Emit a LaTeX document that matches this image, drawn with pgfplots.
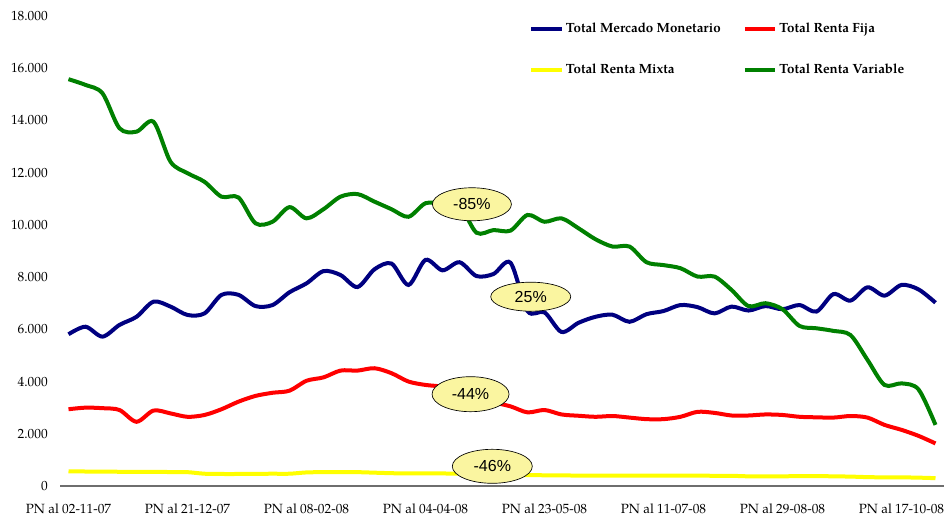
\documentclass[border=0pt]{standalone}
\usepackage{fontspec}
\setmainfont{TeX Gyre Pagella}
\newfontfamily\calloutfont{Liberation Sans}
\usepackage{pgfplots}
\usepackage{pgfplotstable}
\pgfplotsset{compat=1.18}
\usetikzlibrary{shapes.geometric}
\definecolor{mmcol}{RGB}{0,0,128}
\definecolor{rfcol}{RGB}{255,0,0}
\definecolor{rmxcol}{RGB}{255,255,0}
\definecolor{rvcol}{RGB}{0,128,0}
\definecolor{axisgray}{RGB}{110,110,110}
\definecolor{calloutfill}{RGB}{250,245,160}

\pgfplotstableread{
i  mm    rf    rmx  rv
0  5810  2940  560  15580
1  6100  3000  555  15360
2  5720  2980  550  15040
3  6170  2910  545  13700
4  6480  2460  540  13570
5  7060  2890  540  13950
6  6870  2780  535  12420
7  6550  2650  530  11980
8  6610  2720  470  11650
9  7320  2940  460  11080
10 7320  3230  460  11050
11 6890  3450  465  10060
12 6930  3570  470  10120
13 7420  3650  470  10680
14 7760  4030  520  10250
15 8230  4160  530  10600
16 8080  4420  530  11080
17 7620  4420  530  11180
18 8300  4510  510  10890
19 8520  4320  490  10600
20 7700  4000  480  10310
21 8660  3870  480  10830
22 8260  3800  480  10800
23 8570  3600  470  10750
24 8040  3350  450  9700
25 8120  3200  430  9800
26 8550  3050  420  9780
27 6700  2820  420  10380
28 6650  2910  410  10120
29 5900  2740  405  10250
30 6250  2690  400  9870
31 6480  2650  400  9450
32 6560  2680  400  9170
33 6290  2620  400  9170
34 6580  2560  400  8570
35 6700  2560  400  8460
36 6930  2650  400  8340
37 6850  2840  400  8020
38 6610  2800  390  8020
39 6870  2700  390  7510
40 6720  2700  370  6890
41 6890  2740  370  7000
42 6770  2720  370  6770
43 6930  2650  380  6130
44 6680  2630  380  6040
45 7350  2620  370  5940
46 7100  2680  360  5780
47 7610  2620  340  4830
48 7290  2340  330  3870
49 7700  2150  330  3930
50 7530  1920  320  3700
51 7020  1630  300  2340
}\datatable

\begin{document}
\begin{tikzpicture}[
  callout/.style={ellipse, draw=black, line width=0.5pt, fill=calloutfill,
    inner sep=0pt, font=\calloutfont\fontsize{12}{14}\selectfont}]
\useasboundingbox (-45pt,-26.25pt) rectangle (667.5pt,364.5pt);
\begin{axis}[
  at={(0pt,0pt)}, anchor=south west,
  scale only axis, width=663pt, height=352.5pt,
  xmin=-0.5, xmax=51.5, ymin=0, ymax=18000,
  axis x line*=bottom, axis y line*=left,
  x axis line style={draw=axisgray, line width=0.8pt},
  y axis line style={draw=none},
  major tick length=0pt,
  xtick={0,7,14,21,28,35,42,49},
  xticklabels={PN al 02-11-07, PN al 21-12-07, PN al 08-02-08, PN al 04-04-08,
    PN al 23-05-08, PN al 11-07-08, PN al 29-08-08, PN al 17-10-08},
  ytick={0,2000,4000,6000,8000,10000,12000,14000,16000,18000},
  scaled y ticks=false,
  /pgf/number format/1000 sep={.},
  /pgf/number format/assume math mode=true,
  yticklabel style={anchor=east, inner sep=0pt, xshift=-9pt},
  xticklabel style={anchor=north, inner sep=0pt, yshift=-13.5pt},
  legend columns=2,
  legend cell align=left,
  legend style={draw=none, fill=none, at={(axis description cs:0.5305,0.929)},
    anchor=west, inner xsep=0pt, inner ysep=0pt, row sep=18.25pt, font=\bfseries,
    nodes={inner xsep=1.5pt},
    /tikz/every even column/.append style={column sep=15pt}},
  legend image code/.code={\draw[#1, line width=3pt] (0pt,0pt) -- (23pt,0pt);},
]
\addplot[mmcol, line width=3pt, smooth] table[x=i, y=mm] {\datatable};
\addlegendentry{Total Mercado Monetario}
\addplot[rfcol, line width=3pt, smooth] table[x=i, y=rf] {\datatable};
\addlegendentry{Total Renta Fija}
\addplot[rmxcol, line width=3pt, smooth] table[x=i, y=rmx] {\datatable};
\addlegendentry{Total Renta Mixta}
\addplot[rvcol, line width=3pt, smooth] table[x=i, y=rv] {\datatable};
\addlegendentry{Total Renta Variable}

\node[callout, minimum width=59.25pt, minimum height=24.75pt] at (axis cs:23.73,10790) {-85\%};
\node[callout, minimum width=60pt, minimum height=21.75pt] at (axis cs:27.19,7250) {25\%};
\node[callout, minimum width=57.75pt, minimum height=26.25pt] at (axis cs:23.65,3516) {-44\%};
\node[callout, minimum width=60pt, minimum height=25.5pt] at (axis cs:24.93,754) {-46\%};
\end{axis}
\end{tikzpicture}
\end{document}
